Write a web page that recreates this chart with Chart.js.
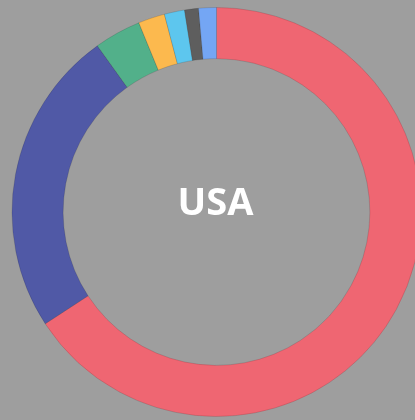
<!DOCTYPE html>
<html>
<head>
<meta charset="utf-8">
<script src="https://cdn.jsdelivr.net/npm/chart.js@4.4.0/dist/chart.umd.min.js"></script>
<style>
  html, body { margin: 0; padding: 0; background: #9e9e9e; overflow: hidden; }
  #wrap { position: absolute; left: 0; top: 0; width: 433px; height: 424px; }
</style>
</head>
<body>
<div id="wrap"><canvas id="pieChart"></canvas></div>
<script>
// datos del gráfico
const labels = ['A', 'B', 'C', 'D', 'E', 'F', 'G'];
const values = [65.8, 24.3, 3.7, 2.1, 1.6, 1.1, 1.4];
const colors = ['#ef6672', '#5059a6', '#52b08a', '#fcb94e', '#5dc6ee', '#5e5e5e', '#74a6f4'];
const centerLabel = 'USA';

// texto en el centro
const centerText = {
  id: 'centerText',
  afterDraw(chart) {
    const { ctx } = chart;
    const meta = chart.getDatasetMeta(0).data[0];
    ctx.save();
    ctx.fillStyle = '#ffffff';
    ctx.font = 'bold 38px "Open Sans", sans-serif';
    ctx.textAlign = 'center';
    ctx.textBaseline = 'middle';
    ctx.fillText(centerLabel, meta.x - 1, meta.y - 8);
    ctx.restore();
  }
};

const ctx = document.getElementById('pieChart').getContext('2d');
const pieChart = new Chart(ctx, {
  type: 'doughnut',
  data: {
    labels: labels,
    datasets: [{
      data: values,
      backgroundColor: colors,
      borderColor: 'rgba(0,0,0,0.12)',
      borderWidth: 1
    }]
  },
  options: {
    responsive: true,
    maintainAspectRatio: false,
    animation: false,
    cutout: '75%',
    layout: { padding: 7 },
    plugins: {
      legend: { display: false },
      tooltip: { enabled: false }
    }
  },
  plugins: [centerText]
});
</script>
</body>
</html>
